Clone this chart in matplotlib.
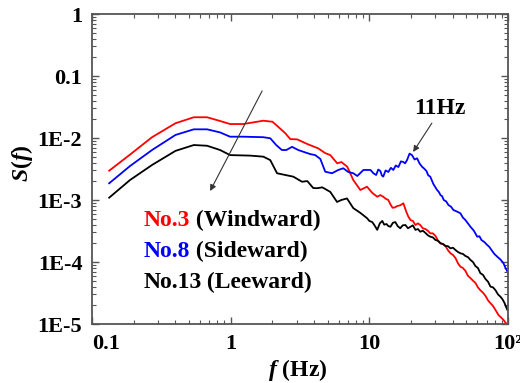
import matplotlib
matplotlib.use("Agg")
import matplotlib.pyplot as plt
from matplotlib.ticker import NullFormatter, LogLocator

plt.rcParams['font.family'] = 'Liberation Serif'
plt.rcParams['font.weight'] = 'bold'
plt.rcParams['mathtext.fontset'] = 'custom'
plt.rcParams['mathtext.it'] = 'Liberation Serif:italic:bold'
plt.rcParams['mathtext.rm'] = 'Liberation Serif:bold'
plt.rcParams['mathtext.bf'] = 'Liberation Serif:bold'

# spectra (Hz, S(f))
red_f = [0.133, 0.188, 0.271, 0.40, 0.542, 0.676, 0.839, 0.99, 1.23, 1.72,
         2.0, 2.17, 2.48, 2.69, 3.02, 3.57, 4.28, 4.81, 5.23, 5.87,
         6.28, 6.93, 7.66, 8.61,
         9.62, 10.5, 11.4, 12.0, 12.6, 13.1, 13.7, 14.2, 14.7, 15.3,
         15.9, 16.7, 17.6, 18.5, 19.1, 19.8, 20.6, 21.5, 22.4, 23.3,
         24.3, 25.4, 26.4, 27.5, 28.7, 30.0, 31.3, 32.6, 34.0, 35.4,
         36.9, 38.5, 40.1, 41.8, 43.6, 45.4, 47.3, 49.3, 51.4, 53.6,
         55.9, 58.2, 60.7, 63.2, 66.0, 68.9, 71.8, 74.8, 78.0, 81.3,
         85.3, 88.3, 92.9, 96.0, 99.5]
red_s = [2.97e-3, 5.4e-3, 1.03e-2, 1.73e-2, 2.16e-2, 2.16e-2, 1.88e-2, 1.68e-2, 1.68e-2, 1.90e-2,
         1.83e-2, 1.56e-2, 1.19e-2, 9.6e-3, 9.5e-3, 8.0e-3, 6.8e-3, 5.7e-3, 5.3e-3, 3.9e-3,
         4.1e-3, 3.44e-3, 2.10e-3, 1.45e-3,
         1.64e-3, 1.30e-3, 1.13e-3, 1.2e-3, 1.13e-3, 1.05e-3, 1.0e-3, 8.5e-4, 7.5e-4, 7.6e-4,
         8.0e-4, 8.2e-4, 8.85e-4, 6.4e-4, 5.4e-4, 4.75e-4, 4.6e-4, 3.95e-4, 4.2e-4, 3.95e-4,
         3.5e-4, 3.4e-4, 3.2e-4, 2.9e-4, 2.9e-4, 2.63e-4, 2.2e-4, 2.0e-4, 1.95e-4, 1.81e-4,
         1.55e-4, 1.38e-4, 1.3e-4, 1.16e-4, 9.5e-5, 8.4e-5, 8.0e-5, 7.2e-5, 6.0e-5, 5.5e-5,
         5.0e-5, 4.6e-5, 3.9e-5, 3.5e-5, 3.2e-5, 2.83e-5, 2.4e-5, 2.16e-5, 1.95e-5, 1.68e-5,
         1.40e-5, 1.3e-5, 1.16e-5, 1.05e-5, 9.6e-6]

blue_f = [0.133, 0.188, 0.271, 0.40, 0.542, 0.676, 0.839, 0.99, 1.23, 1.72,
          1.93, 2.13, 2.34, 2.52, 2.77, 3.07, 3.34, 3.75, 4.07, 4.43,
          4.81, 5.38, 5.97, 6.49, 7.05, 7.66, 8.19, 9.06,
          10.2, 10.7, 11.2, 11.6, 12.0, 12.3, 12.6, 13.1, 13.7, 14.3,
          14.9, 15.5, 16.2, 16.9, 17.6, 18.1, 18.7, 19.5, 20.3, 21.2,
          22.1, 23.0, 24.0, 24.9, 25.8, 26.6, 27.5, 29.0, 30.8, 31.7,
          32.6, 33.5, 34.4, 35.8, 37.2, 38.8, 40.4, 42.9, 45.4, 47.3,
          49.3, 51.4, 53.6, 56.7, 60.0, 62.2, 64.4, 67.5, 70.8, 73.4,
          76.0, 79.7, 83.6, 88.1, 92.9, 96.0, 99.1]
blue_s = [1.86e-3, 3.53e-3, 6.4e-3, 1.12e-2, 1.38e-2, 1.38e-2, 1.23e-2, 1.05e-2, 1.05e-2, 1.03e-2,
          9.9e-3, 7.7e-3, 6.4e-3, 6.4e-3, 7.2e-3, 6.4e-3, 6.0e-3, 5.5e-3, 5.3e-3, 4.6e-3,
          2.86e-3, 2.70e-3, 3.05e-3, 3.25e-3, 2.83e-3, 2.70e-3, 2.44e-3, 3.05e-3,
          3.05e-3, 2.7e-3, 2.53e-3, 3.1e-3, 2.94e-3, 2.5e-3, 2.38e-3, 3.0e-3, 2.83e-3, 3.3e-3,
          3.05e-3, 3.6e-3, 3.4e-3, 4.2e-3, 4.1e-3, 3.9e-3, 4.4e-3, 5.6e-3, 5.3e-3, 4.5e-3,
          4.7e-3, 3.9e-3, 3.44e-3, 3.2e-3, 2.94e-3, 2.5e-3, 2.38e-3, 1.8e-3, 1.45e-3, 1.35e-3,
          1.2e-3, 1.15e-3, 1.0e-3, 9.5e-4, 8.3e-4, 7.8e-4, 6.9e-4, 6.5e-4, 6.1e-4, 5.2e-4,
          4.75e-4, 4.2e-4, 3.7e-4, 3.2e-4, 2.56e-4, 2.6e-4, 2.26e-4, 2.1e-4, 1.88e-4, 1.75e-4,
          1.56e-4, 1.35e-4, 1.22e-4, 1.1e-4, 9.5e-5, 8.0e-5, 7.0e-5]

black_f = [0.133, 0.188, 0.271, 0.40, 0.542, 0.676, 0.839, 0.99, 1.38, 1.72,
           1.93, 2.16, 2.48, 2.83, 3.27, 3.57, 3.94, 4.21, 4.58, 5.23,
           5.85, 6.28, 6.90, 7.66, 8.61,
           9.62, 10.0, 10.5, 10.9, 11.4, 11.9, 12.4, 12.8, 13.3, 13.7,
           14.2, 14.8, 15.4, 16.0, 16.7, 17.4, 18.2, 19.0, 19.8, 20.6,
           21.5, 22.4, 23.3, 24.3, 25.4, 26.4, 27.5, 28.7, 30.0, 31.3,
           32.6, 34.0, 35.4, 36.9, 38.5, 40.1, 41.8, 43.6, 45.4, 47.3,
           49.3, 51.4, 53.6, 55.9, 58.2, 60.7, 63.2, 66.0, 68.9, 71.8,
           74.8, 78.0, 81.3, 84.7, 88.3, 91.3, 94.4, 96.7, 99.1]
black_s = [1.09e-3, 2.10e-3, 3.67e-3, 6.2e-3, 7.7e-3, 7.5e-3, 6.4e-3, 5.3e-3, 5.2e-3, 5.0e-3,
           4.4e-3, 2.70e-3, 2.53e-3, 2.38e-3, 1.97e-3, 2.02e-3, 1.56e-3, 1.55e-3, 1.60e-3, 1.35e-3,
           9.3e-4, 1.0e-3, 1.06e-3, 7.4e-4, 6.2e-4,
           5.1e-4, 4.6e-4, 4.4e-4, 3.9e-4, 3.3e-4, 4.2e-4, 4.6e-4, 4.0e-4, 4.1e-4, 3.8e-4,
           3.7e-4, 4.3e-4, 4.4e-4, 3.8e-4, 3.5e-4, 3.9e-4, 3.95e-4, 3.5e-4, 3.7e-4, 3.9e-4,
           3.3e-4, 3.4e-4, 3.08e-4, 3.2e-4, 2.94e-4, 2.7e-4, 2.56e-4, 2.5e-4, 2.26e-4, 2.2e-4,
           2.0e-4, 1.95e-4, 1.81e-4, 1.8e-4, 1.66e-4, 1.7e-4, 1.56e-4, 1.45e-4, 1.38e-4, 1.35e-4,
           1.25e-4, 1.2e-4, 1.08e-4, 1.0e-4, 8.6e-5, 8.0e-5, 6.6e-5, 6.2e-5, 5.3e-5, 4.8e-5,
           4.0e-5, 3.9e-5, 3.5e-5, 3.0e-5, 2.75e-5, 2.5e-5, 2.18e-5, 1.9e-5, 1.68e-5]

series = [
    ('No.3', ' (Windward)', 'red', red_f, red_s),
    ('No.8', ' (Sideward)', 'blue', blue_f, blue_s),
    ('No.13', ' (Leeward)', 'black', black_f, black_s),
]

x_ticks = [0.1, 1, 10, 100]
x_ticklabels = ['0.1', '1', '10', '10\u00b2']
y_ticks = [1e-5, 1e-4, 1e-3, 1e-2, 1e-1, 1]
y_ticklabels = ['1E-5', '1E-4', '1E-3', '1E-2', '0.1', '1']

fig = plt.figure(figsize=(5.2, 3.83), dpi=100)
ax = fig.add_axes([92 / 520, 1 - 324 / 383, 416 / 520, 310 / 383])

for _, _, color, f, s in series:
    assert len(f) == len(s)
    ax.plot(f, s, color=color, lw=1.3)

ax.set_xscale('log')
ax.set_yscale('log')
ax.set_xlim(0.1, 100)
ax.set_ylim(1e-5, 1)
ax.set_xticks(x_ticks)
ax.set_xticklabels(x_ticklabels)
ax.set_yticks(y_ticks)
ax.set_yticklabels(y_ticklabels)
ax.xaxis.set_minor_locator(LogLocator(subs=range(2, 10)))
ax.yaxis.set_minor_locator(LogLocator(subs=range(2, 10)))
ax.xaxis.set_minor_formatter(NullFormatter())
ax.yaxis.set_minor_formatter(NullFormatter())
ax.tick_params(which='both', direction='in', top=True, right=True,
               color='#555555', labelsize=16)
ax.tick_params(which='major', length=5, width=1.0)
ax.tick_params(which='minor', length=3, width=0.8)
ax.tick_params(axis='x', pad=7)
ax.tick_params(axis='y', pad=7)
ax.xaxis.get_major_ticks()[0].label1.set_horizontalalignment('left')
for sp in ax.spines.values():
    sp.set_color('#555555')
    sp.set_linewidth(1.3)

ax.set_xlabel('$f$ (Hz)', fontsize=17, fontweight='bold')
ax.set_ylabel('$S$($f$)', fontsize=17, fontweight='bold')
ax.xaxis.set_label_coords(0.495, -0.105)
ax.yaxis.set_label_coords(-0.137, 0.52)

# legend written as text
for i, (num, side, color, _, _) in enumerate(series):
    t = ax.text(0.123, 0.335 - i * 0.1, num, color=color, fontsize=17,
                transform=ax.transAxes, ha='left', va='center')
    ax.annotate(side, xy=(1, 0), xycoords=t, ha='left', va='bottom',
                fontsize=17, color='black')

arrow = dict(arrowstyle='-|>', color='#333333', lw=0.8, mutation_scale=9,
             shrinkA=0, shrinkB=0)
ax.annotate('', xy=(0.284, 0.429), xytext=(0.409, 0.752),
            xycoords='axes fraction', arrowprops=arrow)
ax.annotate('', xy=(0.772, 0.555), xytext=(0.817, 0.648),
            xycoords='axes fraction', arrowprops=arrow)
ax.text(0.837, 0.694, '11Hz', fontsize=17, transform=ax.transAxes,
        ha='center', va='center')

fig.savefig('out.png', dpi=100)
